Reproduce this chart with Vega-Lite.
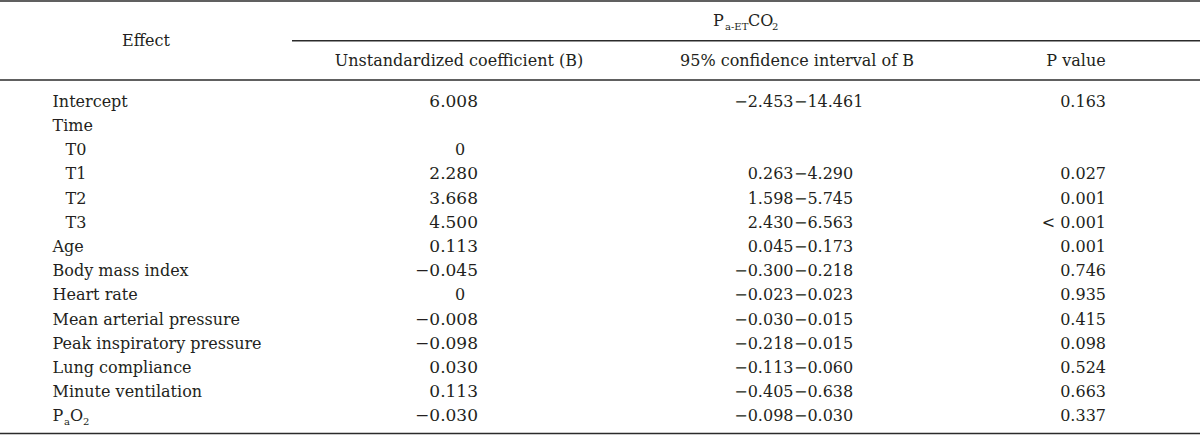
{
  "$schema": "https://vega.github.io/schema/vega-lite/v6.json",
  "width": 1200,
  "height": 436,
  "padding": 0,
  "autosize": "none",
  "background": "white",
  "view": {"stroke": null},
  "config": {
    "text": {"font": "DejaVu Serif", "fontSize": 16, "color": "#231f20", "baseline": "middle"}
  },
  "data": {
    "values": [
      {"r": 0, "c": 0, "c2": 20},
      {"r": 2, "c": 7, "c2": 20},
      {"r": 4, "c": 0, "c2": 20},
      {"r": 19, "c": 0, "c2": 20},
      {"r": 2, "c": 6, "t": "Effect"},
      {"r": 1, "c": 11, "t": "P"},
      {"r": 1, "c": 12, "t": "a-ET"},
      {"r": 1, "c": 13, "t": "CO"},
      {"r": 1, "c": 14, "t": "2"},
      {"r": 3, "c": 8, "t": "Unstandardized coefficient (B)"},
      {"r": 3, "c": 17, "t": "95% confidence interval of B"},
      {"r": 3, "c": 18, "t": "P value"},
      {"r": 5, "c": 1, "t": "Intercept"},
      {"r": 5, "c": 10, "t": "6.008"},
      {"r": 5, "c": 15, "t": "−2.453"},
      {"r": 5, "c": 16, "t": "−14.461"},
      {"r": 5, "c": 19, "t": "0.163"},
      {"r": 6, "c": 1, "t": "Time"},
      {"r": 7, "c": 3, "t": "T0"},
      {"r": 7, "c": 9, "t": "0"},
      {"r": 8, "c": 3, "t": "T1"},
      {"r": 8, "c": 10, "t": "2.280"},
      {"r": 8, "c": 15, "t": "0.263"},
      {"r": 8, "c": 16, "t": "−4.290"},
      {"r": 8, "c": 19, "t": "0.027"},
      {"r": 9, "c": 3, "t": "T2"},
      {"r": 9, "c": 10, "t": "3.668"},
      {"r": 9, "c": 15, "t": "1.598"},
      {"r": 9, "c": 16, "t": "−5.745"},
      {"r": 9, "c": 19, "t": "0.001"},
      {"r": 10, "c": 3, "t": "T3"},
      {"r": 10, "c": 10, "t": "4.500"},
      {"r": 10, "c": 15, "t": "2.430"},
      {"r": 10, "c": 16, "t": "−6.563"},
      {"r": 10, "c": 19, "t": "< 0.001"},
      {"r": 11, "c": 1, "t": "Age"},
      {"r": 11, "c": 10, "t": "0.113"},
      {"r": 11, "c": 15, "t": "0.045"},
      {"r": 11, "c": 16, "t": "−0.173"},
      {"r": 11, "c": 19, "t": "0.001"},
      {"r": 12, "c": 1, "t": "Body mass index"},
      {"r": 12, "c": 10, "t": "−0.045"},
      {"r": 12, "c": 15, "t": "−0.300"},
      {"r": 12, "c": 16, "t": "−0.218"},
      {"r": 12, "c": 19, "t": "0.746"},
      {"r": 13, "c": 1, "t": "Heart rate"},
      {"r": 13, "c": 9, "t": "0"},
      {"r": 13, "c": 15, "t": "−0.023"},
      {"r": 13, "c": 16, "t": "−0.023"},
      {"r": 13, "c": 19, "t": "0.935"},
      {"r": 14, "c": 1, "t": "Mean arterial pressure"},
      {"r": 14, "c": 10, "t": "−0.008"},
      {"r": 14, "c": 15, "t": "−0.030"},
      {"r": 14, "c": 16, "t": "−0.015"},
      {"r": 14, "c": 19, "t": "0.415"},
      {"r": 15, "c": 1, "t": "Peak inspiratory pressure"},
      {"r": 15, "c": 10, "t": "−0.098"},
      {"r": 15, "c": 15, "t": "−0.218"},
      {"r": 15, "c": 16, "t": "−0.015"},
      {"r": 15, "c": 19, "t": "0.098"},
      {"r": 16, "c": 1, "t": "Lung compliance"},
      {"r": 16, "c": 10, "t": "0.030"},
      {"r": 16, "c": 15, "t": "−0.113"},
      {"r": 16, "c": 16, "t": "−0.060"},
      {"r": 16, "c": 19, "t": "0.524"},
      {"r": 17, "c": 1, "t": "Minute ventilation"},
      {"r": 17, "c": 10, "t": "0.113"},
      {"r": 17, "c": 15, "t": "−0.405"},
      {"r": 17, "c": 16, "t": "−0.638"},
      {"r": 17, "c": 19, "t": "0.663"},
      {"r": 18, "c": 1, "t": "P"},
      {"r": 18, "c": 2, "t": "a"},
      {"r": 18, "c": 4, "t": "O"},
      {"r": 18, "c": 5, "t": "2"},
      {"r": 18, "c": 10, "t": "−0.030"},
      {"r": 18, "c": 15, "t": "−0.098"},
      {"r": 18, "c": 16, "t": "−0.030"},
      {"r": 18, "c": 19, "t": "0.337"}
    ]
  },
  "encoding": {
    "x": {
      "field": "c", "type": "quantitative", "axis": null,
      "scale": {
        "domain": [0,1,2,3,4,5,6,7,8,9,10,11,12,13,14,15,16,17,18,19,20],
        "range": [0,52.5,64,65.5,70,83,146,292,459,460,478,713,725,748,772,793.5,794,797,1076,1106,1200],
        "nice": false, "zero": false
      }
    },
    "y": {
      "field": "r", "type": "quantitative", "axis": null,
      "scale": {
        "domain": [0,1,2,3,4,5,18,19],
        "range": [1,20.5,40.8,61,80,101.7,416.3,433.5],
        "nice": false, "zero": false
      }
    }
  },
  "layer": [
    {
      "transform": [{"filter": "isValid(datum.c2)"}],
      "mark": {"type": "rule", "stroke": "#2b2b2b", "strokeWidth": 1.5},
      "encoding": {"x2": {"field": "c2"}}
    },
    {
      "transform": [{"filter": {"field": "c", "oneOf": [1, 3, 4, 11, 13, 16]}}],
      "mark": {"type": "text", "align": "left"},
      "encoding": {"text": {"field": "t"}}
    },
    {
      "transform": [{"filter": {"field": "c", "oneOf": [15, 19]}}],
      "mark": {"type": "text", "align": "right"},
      "encoding": {"text": {"field": "t"}}
    },
    {
      "transform": [{"filter": {"field": "c", "oneOf": [10]}}],
      "mark": {"type": "text", "align": "right", "fontSize": 17},
      "encoding": {"text": {"field": "t"}}
    },
    {
      "transform": [{"filter": {"field": "c", "oneOf": [6, 8, 9, 17, 18]}}],
      "mark": {"type": "text", "align": "center"},
      "encoding": {"text": {"field": "t"}}
    },
    {
      "transform": [{"filter": {"field": "c", "oneOf": [2, 5, 12, 14]}}],
      "mark": {"type": "text", "align": "left", "fontSize": 10, "dy": 6},
      "encoding": {"text": {"field": "t"}}
    }
  ]
}
